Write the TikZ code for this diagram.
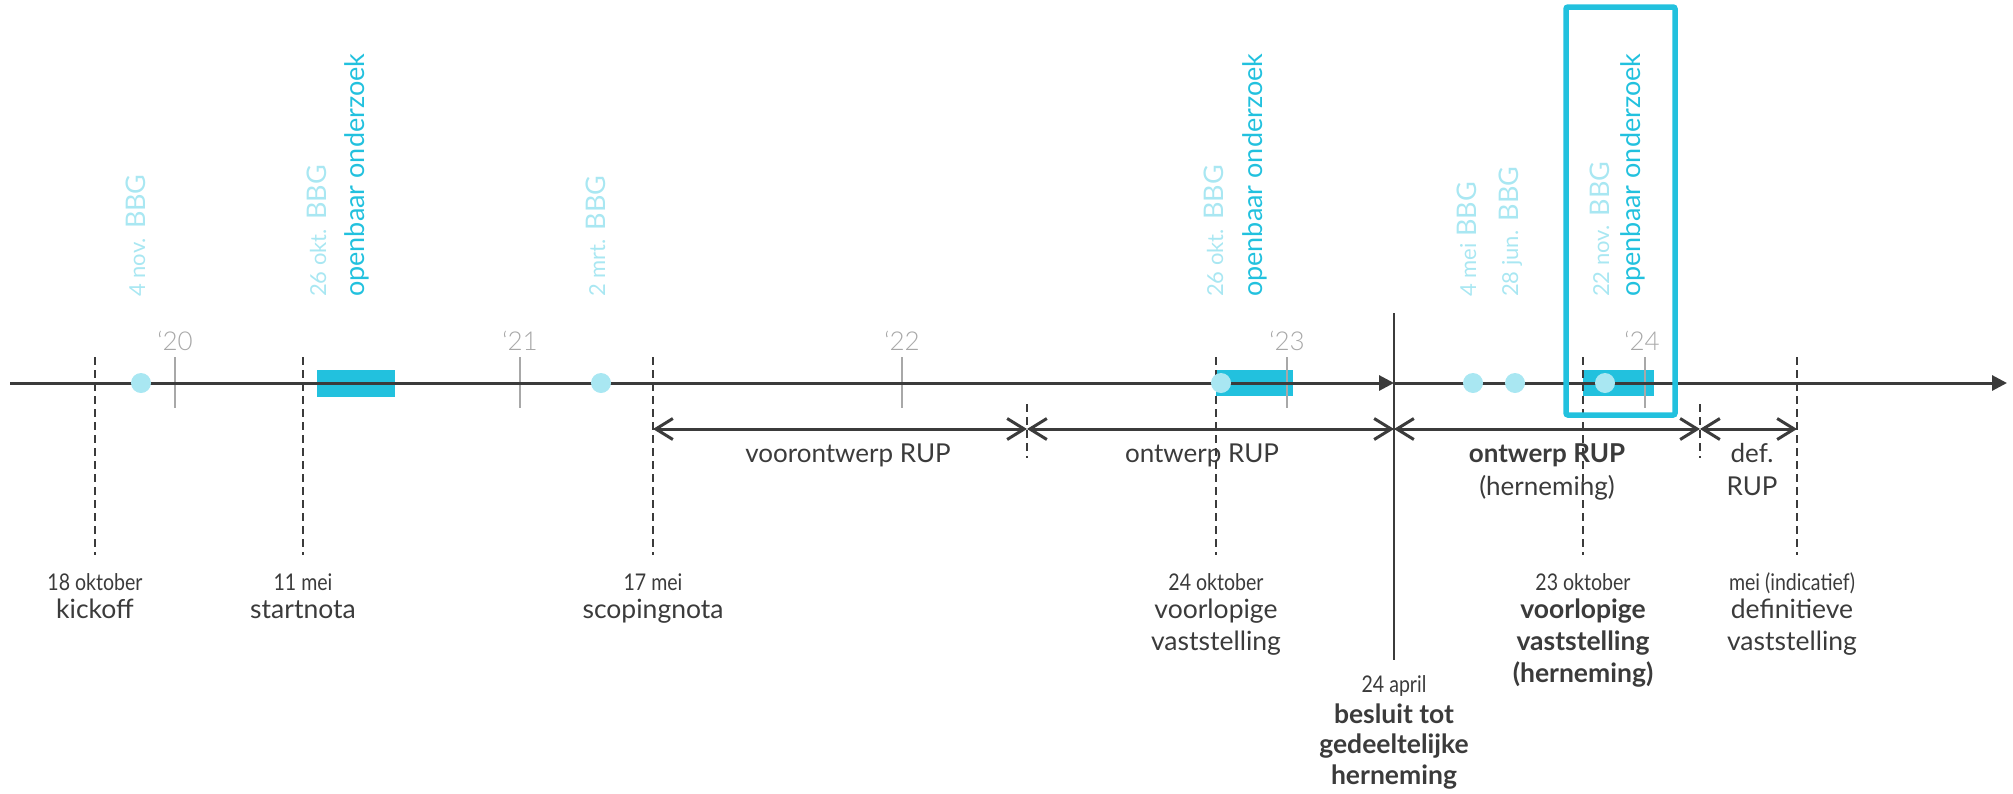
\documentclass[tikz,border=0pt]{standalone}
\usepackage{fontspec}
\setmainfont{Lato}
\newfontfamily\lightfont{Lato Light}
\newfontfamily\condfont[FakeStretch=0.85]{Lato}
\usetikzlibrary{arrows.meta}
\definecolor{ink}{HTML}{3B3B3B}
\definecolor{tickgray}{HTML}{A8A8A8}
\definecolor{cyanA}{HTML}{22C1DE}
\definecolor{cyanB}{HTML}{A9E7F2}
\newcommand\yearfont{\lightfont\fontsize{26}{30}\selectfont}
\newcommand\datefont{\condfont\fontsize{23}{28}\selectfont}
\newcommand\titlefont{\fontsize{26.5}{32}\selectfont}
\newcommand\spanfont{\fontsize{26}{30}\selectfont}
\newcommand\smalldatefont{\fontsize{22}{26}\selectfont}
\newcommand\bbgfont{\fontsize{27}{32}\selectfont}
\tikzset{
  axis/.style={draw=ink, line width=3pt},
  axistip/.style={-{Triangle[length=15pt,width=15pt]}},
  dashline/.style={draw=ink, line width=2.4pt, dash pattern=on 8pt off 5pt},
  solidline/.style={draw=ink, line width=2.4pt},
  yeartick/.style={draw=tickgray, line width=2pt},
  yearlabel/.style={text=tickgray, font=\yearfont, anchor=base, inner sep=0pt},
  span/.style={draw=ink, line width=3pt, {Straight Barb[length=17pt,width=21pt]}-{Straight Barb[length=17pt,width=21pt]}},
  rotlabel/.style={rotate=90, anchor=base west, inner sep=0pt},
  bbg/.style={rotlabel, text=cyanB, font=\bbgfont},
  oo/.style={rotlabel, text=cyanA, font=\bbgfont},
  datelabel/.style={anchor=base, inner sep=0pt, text=ink, font=\datefont},
  titlelabel/.style={anchor=base, inner sep=0pt, text=ink, font=\titlefont},
  spanlabel/.style={anchor=base, inner sep=0pt, text=ink, font=\spanfont},
  period/.style={fill=cyanA},
  meeting/.style={fill=cyanB},
  highlight/.style={draw=cyanA, line width=5.5pt, rounded corners=2pt}
}
\begin{document}
\begin{tikzpicture}[x=1pt,y=-1pt]
\useasboundingbox (0,0) rectangle (2013,793);

% periods of public inquiry
\fill[period] (317,370) rectangle (395,397);
\fill[period] (1216,370) rectangle (1293,396);
\fill[period] (1583,370) rectangle (1654,396);

% year ticks
\coordinate (y20t) at (175,357); \coordinate (y20b) at (175,408);
\coordinate (y21t) at (520,357); \coordinate (y21b) at (520,408);
\coordinate (y22t) at (902,357); \coordinate (y22b) at (902,408);
\coordinate (y23t) at (1287,357); \coordinate (y23b) at (1287,408);
\coordinate (y24t) at (1645,357); \coordinate (y24b) at (1645,408);
\foreach \n in {20,21,22,23,24} { \draw[yeartick] (y\n t) -- (y\n b); }
\node[yearlabel] (l20) at (175,350) {‘20};
\node[yearlabel] (l21) at (520,350) {‘21};
\node[yearlabel] (l22) at (902,350) {‘22};
\node[yearlabel] (l23) at (1287,350) {‘23};
\node[yearlabel] (l24) at (1642,350) {‘24};

% main axis
\coordinate (L0) at (10,383);
\coordinate (L1) at (1394,383);
\coordinate (L2) at (2007,383);
\draw[axis, axistip] (L0) -- (L1);
\draw[axis, axistip] (L1) -- (L2);

% milestone dashed lines
\coordinate (d1t) at (95,357);   \coordinate (d1b) at (95,555);
\coordinate (d2t) at (303,357);  \coordinate (d2b) at (303,555);
\coordinate (d3t) at (653,357);  \coordinate (d3b) at (653,555);
\coordinate (d4t) at (1216,357); \coordinate (d4b) at (1216,555);
\coordinate (d5t) at (1583,357); \coordinate (d5b) at (1583,555);
\coordinate (d6t) at (1797,357); \coordinate (d6b) at (1797,555);
\foreach \n in {1,...,6} { \draw[dashline] (d\n t) -- (d\n b); }
\coordinate (s1t) at (1027,404); \coordinate (s1b) at (1027,458);
\coordinate (s2t) at (1700,404); \coordinate (s2b) at (1700,458);
\draw[dashline] (s1t) -- (s1b);
\draw[dashline] (s2t) -- (s2b);

% decision line
\coordinate (vt) at (1394,313); \coordinate (vb) at (1394,660);
\draw[solidline] (vt) -- (vb);

% meetings BBG
\fill[meeting] (141,383) circle[radius=10];
\fill[meeting] (601,383) circle[radius=10];
\fill[meeting] (1221,383) circle[radius=10];
\fill[meeting] (1473,383) circle[radius=10];
\fill[meeting] (1515,383) circle[radius=10];
\fill[meeting] (1605,383) circle[radius=10];

% phase spans
\coordinate (A1) at (653,429);
\coordinate (A2) at (1027,429);
\coordinate (A3) at (1394,429);
\coordinate (A4) at (1700,429);
\coordinate (A5) at (1797,429);
\draw[span] (A1) -- (A2);
\draw[span] (A2) -- (A3);
\draw[span] (A3) -- (A4);
\draw[span] (A4) -- (A5);

\node[spanlabel] (p1) at (848,462) {voorontwerp RUP};
\node[spanlabel] (p2) at (1202,462) {ontwerp RUP};
\node[spanlabel, font=\spanfont\bfseries] (p3a) at (1547,462) {ontwerp RUP};
\node[spanlabel] (p3b) at (1547,495) {(herneming)};
\node[spanlabel] (p4a) at (1752,462) {def.};
\node[spanlabel] (p4b) at (1752,495) {RUP};

% highlight box
\draw[highlight] (1566,7) rectangle (1675,415);

% vertical labels
\node[bbg] (b1) at (145,297) {{\smalldatefont 4 nov.} BBG};
\node[bbg] (b2) at (326,297) {{\smalldatefont 26 okt.} BBG};
\node[oo]  (o2) at (364,297) {openbaar onderzoek};
\node[bbg] (b3) at (605,297) {{\smalldatefont 2 mrt.} BBG};
\node[bbg] (b4) at (1223,297) {{\smalldatefont 26 okt.} BBG};
\node[oo]  (o4) at (1262,297) {openbaar onderzoek};
\node[bbg] (b5) at (1476,297) {{\smalldatefont 4 mei} BBG};
\node[bbg] (b6) at (1518,297) {{\smalldatefont 28 jun.} BBG};
\node[bbg] (b7) at (1609,297) {{\smalldatefont 22 nov.} BBG};
\node[oo]  (o7) at (1640,297) {openbaar onderzoek};

% milestone labels
\node[datelabel] (m1d) at (95,590) {18 oktober};
\node[titlelabel] (m1a) at (95,618) {kickoff};
\node[datelabel] (m2d) at (303,590) {11 mei};
\node[titlelabel] (m2a) at (303,618) {startnota};
\node[datelabel] (m3d) at (653,590) {17 mei};
\node[titlelabel] (m3a) at (653,618) {scopingnota};
\node[datelabel] (m4d) at (1216,590) {24 oktober};
\node[titlelabel] (m4a) at (1216,618) {voorlopige};
\node[titlelabel] (m4b) at (1216,650) {vaststelling};
\node[datelabel] (m5d) at (1394,692) {24 april};
\node[titlelabel, font=\titlefont\bfseries] (m5a) at (1394,723) {besluit tot};
\node[titlelabel, font=\titlefont\bfseries] (m5b) at (1394,753) {gedeeltelijke};
\node[titlelabel, font=\titlefont\bfseries] (m5c) at (1394,784) {herneming};
\node[datelabel] (m6d) at (1583,590) {23 oktober};
\node[titlelabel, font=\titlefont\bfseries] (m6a) at (1583,618) {voorlopige};
\node[titlelabel, font=\titlefont\bfseries] (m6b) at (1583,650) {vaststelling};
\node[titlelabel, font=\titlefont\bfseries] (m6c) at (1583,682) {(herneming)};
\node[datelabel] (m7d) at (1792,590) {mei (indicatief)};
\node[titlelabel] (m7a) at (1792,618) {definitieve};
\node[titlelabel] (m7b) at (1792,650) {vaststelling};
\end{tikzpicture}
\end{document}
